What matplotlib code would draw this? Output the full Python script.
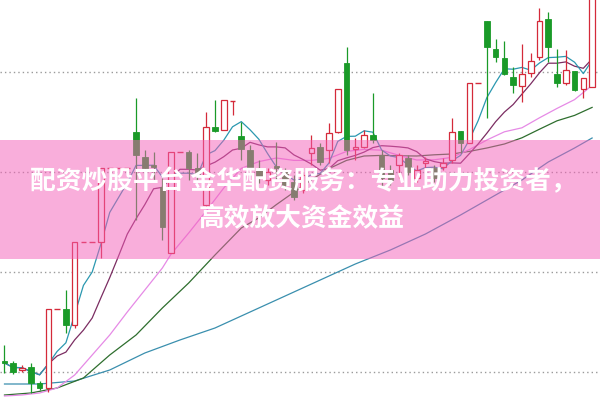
import matplotlib
matplotlib.use("Agg")
import matplotlib.pyplot as plt
from matplotlib.patches import Rectangle
import numpy as np
import pandas as pd

# ---- data (price units) ----
opens = [5.50, 5.45, 5.10, 5.25, 4.45, 4.20, 8.15, 8.15, 7.35, 11.50, 11.50, 11.50, 15.20, 15.20, 15.20,
         17.00, 15.75, 15.35, 14.25, 10.95, 16.00, 16.00, 15.20, 13.35, 17.25, 17.10, 18.55, 16.80, 16.10,
         15.20, 14.60, 15.30, 15.00, 14.50, 14.10, 15.95, 16.25, 16.10, 17.00, 20.45, 16.15, 16.25, 16.85,
         15.85, 15.10, 15.35, 15.70, 14.70, 15.45, 15.20, 15.25, 15.60, 17.05, 16.45, 19.45, 22.55, 21.15,
         20.70, 19.75, 19.30, 19.95, 20.75, 22.65, 19.90, 19.45, 20.05, 19.15, 19.25]
highs = [6.35, 5.55, 5.35, 5.45, 4.55, 8.15, 8.15, 9.10, 11.50, 11.50, 11.50, 15.20, 15.20, 15.20, 15.20,
         18.70, 16.10, 16.00, 14.70, 16.00, 16.00, 16.10, 15.95, 18.00, 18.60, 18.60, 18.55, 17.50, 16.35,
         15.60, 15.20, 16.50, 15.20, 14.85, 15.00, 16.85, 16.45, 17.45, 19.15, 21.25, 16.70, 17.10, 18.95,
         16.10, 15.35, 15.95, 15.85, 15.35, 15.75, 15.35, 15.70, 17.70, 17.05, 19.45, 19.45, 22.55, 21.65,
         21.55, 20.25, 21.40, 20.95, 23.20, 23.00, 21.15, 21.10, 20.05, 19.70, 25.10]
lows = [4.95, 4.90, 5.00, 3.95, 4.10, 4.00, 8.15, 6.95, 7.20, 11.50, 11.50, 10.70, 15.20, 15.20, 15.20,
        12.60, 14.60, 14.60, 11.60, 10.95, 16.00, 14.60, 14.60, 13.25, 17.00, 17.10, 17.85, 15.60, 15.10,
        14.45, 14.35, 14.60, 14.10, 13.60, 13.95, 15.35, 15.35, 15.45, 16.95, 15.85, 15.60, 16.20, 16.45,
        14.25, 14.35, 14.70, 14.85, 14.50, 15.20, 14.50, 15.10, 15.45, 15.95, 16.45, 19.45, 17.70, 20.50,
        19.85, 18.95, 18.50, 19.75, 20.60, 20.50, 19.25, 19.35, 19.05, 18.70, 19.25]
closes = [5.45, 5.00, 5.20, 4.45, 4.20, 8.15, 8.15, 7.35, 11.50, 11.50, 11.50, 15.20, 15.20, 15.20, 15.20,
          15.85, 15.20, 15.25, 12.25, 16.00, 16.00, 15.20, 14.85, 17.25, 17.05, 18.60, 18.55, 16.15, 15.20,
          14.70, 15.00, 15.20, 14.35, 13.75, 14.85, 16.20, 15.50, 16.95, 19.15, 16.10, 16.25, 16.85, 16.60,
          14.70, 14.60, 15.85, 15.00, 15.10, 15.55, 14.70, 15.45, 17.00, 16.45, 19.45, 19.45, 21.25, 20.75,
          19.90, 19.35, 19.90, 20.55, 22.55, 21.25, 19.45, 20.10, 19.10, 19.70, 24.60]

ma20_idx = [0, 2, 4, 6, 8, 10, 12, 14, 16, 18, 19, 21, 23, 25, 27, 29, 31, 33, 35, 37, 39, 41, 43, 45, 47,
            49, 51, 53, 55, 57, 59, 61, 63, 65, 67]
ma20_val = [3.80, 3.85, 3.95, 4.20, 4.85, 5.85, 6.85, 8.00, 9.10, 10.20, 10.90, 11.95, 13.05, 14.20, 15.18,
            15.52, 15.70, 15.58, 15.58, 15.68, 16.03, 16.13, 16.09, 15.83, 15.60, 15.61, 15.73, 16.12, 16.60,
            17.01, 17.21, 17.71, 18.18, 18.62, 19.33]
ma30_idx = [0, 3, 6, 9, 12, 15, 18, 21, 24, 27, 29, 31, 33, 35, 37, 39, 41, 43, 45, 47, 49, 51, 53, 55, 57,
            59, 61, 63, 65, 67]
ma30_val = [3.85, 3.95, 4.20, 4.70, 5.85, 6.85, 8.20, 9.45, 10.85, 12.20, 12.71, 13.37, 13.99, 14.61, 15.17,
            15.58, 15.80, 15.83, 15.81, 15.80, 15.86, 15.90, 16.03, 16.20, 16.40, 16.71, 17.14, 17.56, 17.83,
            18.23]
ma60_idx = [0, 4, 8, 12, 16, 20, 24, 28, 32, 36, 40, 44, 48, 52, 56, 59, 62, 65, 67]
ma60_val = [4.40, 4.40, 4.55, 5.10, 5.95, 6.60, 7.20, 8.00, 8.80, 9.60, 10.40, 11.10, 11.90, 12.85, 13.85,
            14.60, 15.50, 16.20, 16.70]

grid_levels = [5, 10, 15, 20]
title_line1 = "配资炒股平台 金华配资服务：专业助力投资者，"
title_line2 = "高效放大资金效益"

# ---- style ----
RED = "#d42a3a"
GREEN = "#1a9a28"
C_MA5 = "#2b98b0"
C_MA10 = "#7b2d62"
C_MA20 = "#e68ae6"
C_MA30 = "#2e6e2e"
C_MA60 = "#3a8fae"

fig = plt.figure(figsize=(6, 4), dpi=100)
ax = fig.add_axes([0, 0, 1, 1])
ax.set_xlim(-0.513, 67.9)
ax.set_ylim(3.6, 23.6)
ax.axis("off")

for g in grid_levels:
    ax.axhline(g, color="#9a9a9a", lw=1.0, ls=(0, (1, 2.2)), zorder=1)

n = len(closes)
idx = np.arange(n)
cs = pd.Series(closes)
ma5 = cs.rolling(5, min_periods=1).mean()
ma10 = cs.rolling(10, min_periods=1).mean()

ax.plot(ma60_idx, ma60_val, color=C_MA60, lw=0.9, zorder=2)
ax.plot(ma30_idx, ma30_val, color=C_MA30, lw=0.9, zorder=2)
ax.plot(ma20_idx, ma20_val, color=C_MA20, lw=0.9, zorder=2)
ax.plot(idx, ma10, color=C_MA10, lw=0.9, zorder=2)
ax.plot(idx, ma5, color=C_MA5, lw=0.9, zorder=2)

w = 0.64
for i in range(n):
    o, h, l, c = opens[i], highs[i], lows[i], closes[i]
    top, bot = max(o, c), min(o, c)
    up = c >= o
    col = RED if up else GREEN
    if up:
        if h > top:
            ax.vlines(i, top, h, color=col, lw=0.9, zorder=3)
        if l < bot:
            ax.vlines(i, l, bot, color=col, lw=0.9, zorder=3)
        if top - bot > 0.06:
            ax.add_patch(Rectangle((i - w / 2, bot), w, top - bot, facecolor="white",
                                   edgecolor=col, lw=0.9, zorder=3))
        else:
            ax.hlines(top, i - w / 2, i + w / 2, color=col, lw=1.0, zorder=3)
    else:
        ax.vlines(i, l, h, color=col, lw=0.9, zorder=3)
        hgt = max(top - bot, 0.08)
        ax.add_patch(Rectangle((i - w / 2, bot), w, hgt, facecolor=col,
                               edgecolor=col, lw=0.6, zorder=3))

# banner overlay
fig.patches.append(Rectangle((0, 0.3525), 1, 0.2975, transform=fig.transFigure,
                             facecolor="#f55fb9", alpha=0.5, edgecolor="none", zorder=5))

fam = ["Noto Sans CJK SC", "DejaVu Sans"]
fig.text(0.505, 0.545, title_line1, ha="center", va="center", color="white",
         fontsize=18.5, fontweight="bold", family=fam, zorder=6)
fig.text(0.502, 0.455, title_line2, ha="center", va="center", color="white",
         fontsize=18.5, fontweight="bold", family=fam, zorder=6)

fig.savefig("out.png", dpi=100)
